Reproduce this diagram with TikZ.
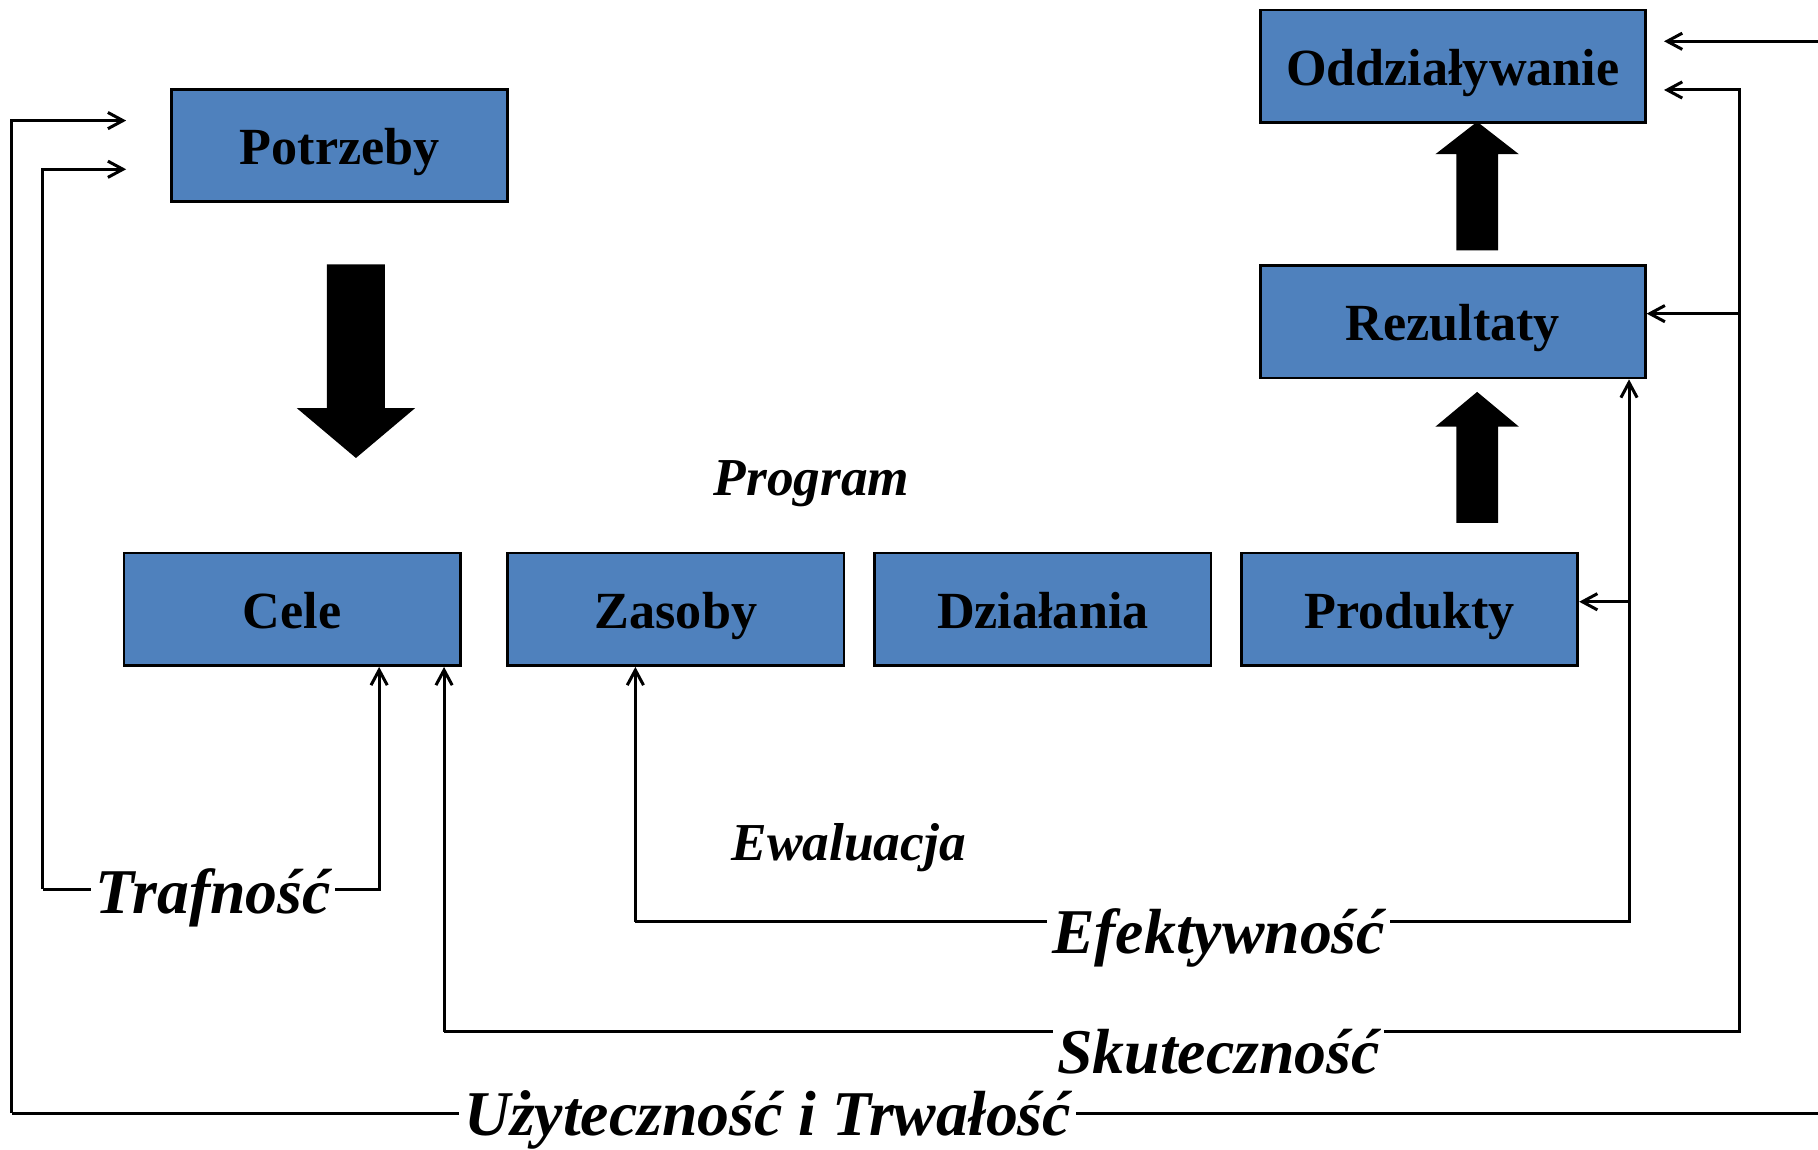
\documentclass[tikz,border=0pt]{standalone}
\usepackage{fontspec}
\setmainfont{Liberation Serif}
\usepackage{tikz}
\usetikzlibrary{arrows.meta,positioning}
\definecolor{boxBlue}{RGB}{79,129,189}
\tikzset{%
  >={Straight Barb[length=6.5pt,width=7pt]},
  % Specifications for style of nodes:
            base/.style = {rectangle, draw=black, line width=1.2pt, fill=boxBlue,
                           minimum width=145pt, minimum height=48.5pt,
                           text height=20pt, text depth=3.5pt, text centered,
                           font=\bfseries\fontsize{22.5pt}{27pt}\selectfont},
        wideBase/.style = {base, minimum width=166pt},
      smallLabel/.style = {anchor=base, inner sep=0pt,
                           font=\bfseries\itshape\fontsize{23pt}{27pt}\selectfont},
        bigLabel/.style = {anchor=base, fill=white, inner sep=2pt,
                           font=\bfseries\itshape\fontsize{27.5pt}{33pt}\selectfont},
        loopLine/.style = {line width=1.3pt},
}
\begin{document}
\begin{tikzpicture}[x=0.5pt, y=-0.5pt]
\useasboundingbox (0,0) rectangle (1568,991);

\node (PT)     [base] at (293,125.5)        {Potrzeby};

\node (CE)     [base] at (252,525.5)        {Cele};

\node (ZA)     [base, right=19.3pt of CE]   {Zasoby};

\node (DZ)     [base, right=12pt of ZA]     {Działania};

\node (PR)     [base, right=12pt of DZ]     {Produkty};

\node (RE)     [wideBase] at (1253,277.5)   {Rezultaty};

\node (OD)     [wideBase, above=60.5pt of RE] {Oddziaływanie};

% block arrows
\fill (282,228) -- (332,228) -- (332,352) -- (358,352) -- (307,395)
      -- (256,352) -- (282,352) -- cycle;
\fill (1256,451) -- (1292,451) -- (1292,368) -- (1310,368) -- (1274,338)
      -- (1238,368) -- (1256,368) -- cycle;
\fill (1256,216) -- (1292,216) -- (1292,133) -- (1310,133) -- (1274,105)
      -- (1238,133) -- (1256,133) -- cycle;

% free ends of the loops
\coordinate (PTa) at ([xshift=-19pt, yshift=10.75pt]PT.west);
\coordinate (PTb) at ([xshift=-19pt, yshift=-10.25pt]PT.west);
\coordinate (ODa) at ([xshift=7.5pt, yshift=10.75pt]OD.east);
\coordinate (ODb) at ([xshift=7.5pt, yshift=-10.25pt]OD.east);
\coordinate (REa) at ([yshift=3.5pt]RE.east);
\coordinate (PRa) at ([yshift=3.25pt]PR.east);

\coordinate (TRa) at (37,767);
\coordinate (TRb) at (327,767);
\coordinate (EFa) at (548,795);
\coordinate (EFb) at (1405,795);
\coordinate (SKa) at (383,890);
\coordinate (SKb) at (1500,890);
\coordinate (UTa) at (10,960);
\coordinate (UTb) at (1568,960);

\draw[->, loopLine] (TRa) |- (PTb);
\draw[->, loopLine] (TRa) -- (TRb) -- (CE.south -| TRb);

\draw[->, loopLine] (EFa) -- (ZA.south -| EFa);
\draw[->, loopLine] (EFa) -- (EFb) -- (RE.south -| EFb);
\draw[->, loopLine] (EFb |- PRa) -- (PRa);

\draw[->, loopLine] (SKa) -- (CE.south -| SKa);
\draw[->, loopLine] (SKa) -- (SKb) |- (ODb);
\draw[->, loopLine] (SKb |- REa) -- (REa);

\draw[->, loopLine] (UTa) |- (PTa);
\draw[loopLine]     (UTa) -- (UTb);
\draw[->, loopLine] (UTb |- ODa) -- (ODa);

\node (PG)     [smallLabel] at (700,427)    {Program};

\node (EW)     [smallLabel] at (732,742)    {Ewaluacja};

\node (TR)     [bigLabel] at (184,788)      {Trafność};

\node (EF)     [bigLabel] at (1051,822)     {Efektywność};

\node (SK)     [bigLabel] at (1051,926)     {Skuteczność};

\node (UT)     [bigLabel] at (662,979)      {Użyteczność i Trwałość};
\end{tikzpicture}
\end{document}
